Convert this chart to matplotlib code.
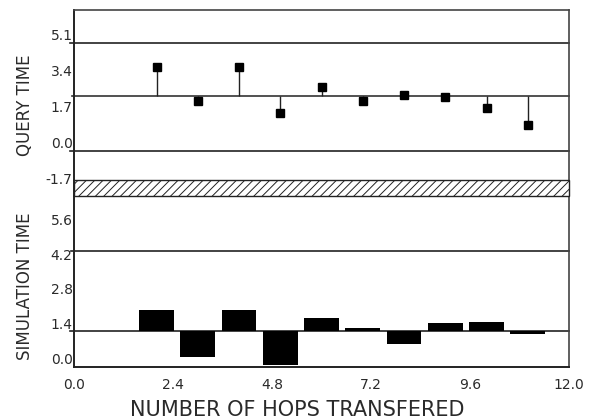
import matplotlib
matplotlib.use("Agg")
import matplotlib.pyplot as plt
import numpy as np
from matplotlib.patches import Rectangle

# ---- data ----
hops = [2, 3, 4, 5, 6, 7, 8, 9, 10, 11]
query_time = [3.95, 2.37, 3.95, 1.81, 3.04, 2.37, 2.64, 2.53, 2.04, 1.21]
simulation_time = [2.30, 0.39, 2.30, 0.06, 1.97, 1.56, 0.92, 1.76, 1.80, 1.32]
query_limits = [0.0, 5.1]
simulation_limits = [4.67]
query_ticks = [-1.7, 0.0, 1.7, 3.4, 5.1]
simulation_ticks = [0.0, 1.4, 2.8, 4.2, 5.6]
x_ticks = [0.0, 2.4, 4.8, 7.2, 9.6, 12.0]

plt.rcParams["font.family"] = ["DejaVu Sans"]
plt.rcParams["axes.unicode_minus"] = False
plt.rcParams["hatch.linewidth"] = 0.7

W, H = 593, 418
fig = plt.figure(figsize=(W / 100, H / 100), dpi=100)
fig.patch.set_facecolor("white")

left, right = 74, 569
top_px, break_top, break_bot, bottom_px = 10, 180, 196, 366.7


def frac_box(y_top, y_bot):
    return [left / W, (H - y_bot) / H, (right - left) / W, (y_bot - y_top) / H]


ax_q = fig.add_axes(frac_box(top_px, break_bot))
ax_s = fig.add_axes(frac_box(break_bot, bottom_px))
ax_b = fig.add_axes(frac_box(break_top, break_bot), zorder=5)

edge = "#444444"
tick_color = "#2a2a2a"
label_color = "#2a2a2a"

# ---- upper panel: query time, stems from the mean ----
q_mean = np.mean(query_time)
ax_q.set_xlim(0, 12)
ax_q.set_ylim(-2.125, 6.657)
for lim in query_limits:
    ax_q.axhline(lim, xmin=-0.008, color="#222222", lw=1.2, clip_on=False)
ax_q.axhline(q_mean, xmin=-0.004, color="#333333", lw=1.2, clip_on=False)
ax_q.vlines(hops, q_mean, query_time, color="#222222", lw=1.0)
ax_q.plot(hops, query_time, ls="none", marker="s", ms=5.5, color="black", zorder=4)

ax_q.set_xticks([])
ax_q.set_yticks(query_ticks)
ax_q.set_yticklabels([f"{v:.1f}" for v in query_ticks])
ax_q.tick_params(axis="y", length=0, pad=1, labelsize=10, labelcolor=tick_color)
for lab in ax_q.get_yticklabels():
    lab.set_verticalalignment("bottom")
ax_q.spines["bottom"].set_visible(False)
ax_q.spines["left"].set_color("#222222")
ax_q.spines["left"].set_linewidth(1.4)
for s in ("top", "right"):
    ax_q.spines[s].set_color(edge)
    ax_q.spines[s].set_linewidth(1.2)
ax_q.set_ylabel("QUERY TIME", fontsize=12, color=label_color, va="center")
ax_q.yaxis.set_label_coords(-0.099, 0.489)

# ---- axis break band ----
ax_b.set_axis_off()
ax_b.add_patch(Rectangle((0, 0), 1, 1, transform=ax_b.transAxes,
                         facecolor="white", edgecolor="#222222", lw=1.0,
                         hatch="////", clip_on=False))

# ---- lower panel: simulation time, bars from the mean ----
s_mean = np.mean(simulation_time)
ax_s.set_xlim(0, 12)
ax_s.set_ylim(0, 6.89)
for lim in simulation_limits:
    ax_s.axhline(lim, xmin=-0.006, color="#222222", lw=1.2, clip_on=False)
ax_s.axhline(s_mean, xmin=-0.008, color="#222222", lw=1.2, clip_on=False)
ax_s.bar(hops, np.array(simulation_time) - s_mean, bottom=s_mean,
         width=0.84, color="black", zorder=3)

ax_s.set_xticks(x_ticks)
ax_s.set_xticklabels([f"{v:.1f}" for v in x_ticks])
ax_s.set_yticks(simulation_ticks)
ax_s.set_yticklabels([f"{v:.1f}" for v in simulation_ticks])
ax_s.tick_params(axis="y", length=0, pad=1, labelsize=10, labelcolor=tick_color)
ax_s.tick_params(axis="x", length=0, pad=8, labelsize=10, labelcolor=tick_color)
for lab in ax_s.get_yticklabels():
    lab.set_verticalalignment("bottom")
ax_s.spines["top"].set_visible(False)
for s in ("left", "bottom"):
    ax_s.spines[s].set_color("#222222")
    ax_s.spines[s].set_linewidth(1.4)
ax_s.spines["right"].set_color(edge)
ax_s.spines["right"].set_linewidth(1.2)
ax_s.set_ylabel("SIMULATION TIME", fontsize=12, color=label_color, va="center")
ax_s.yaxis.set_label_coords(-0.099, 0.47)
ax_s.set_xlabel("NUMBER OF HOPS TRANSFERED", fontsize=15, color=label_color)
ax_s.xaxis.set_label_coords(0.45, (bottom_px - 415.5) / (bottom_px - break_bot))
ax_s.xaxis.label.set_verticalalignment("baseline")

fig.savefig("out.png", dpi=100, facecolor="white")
